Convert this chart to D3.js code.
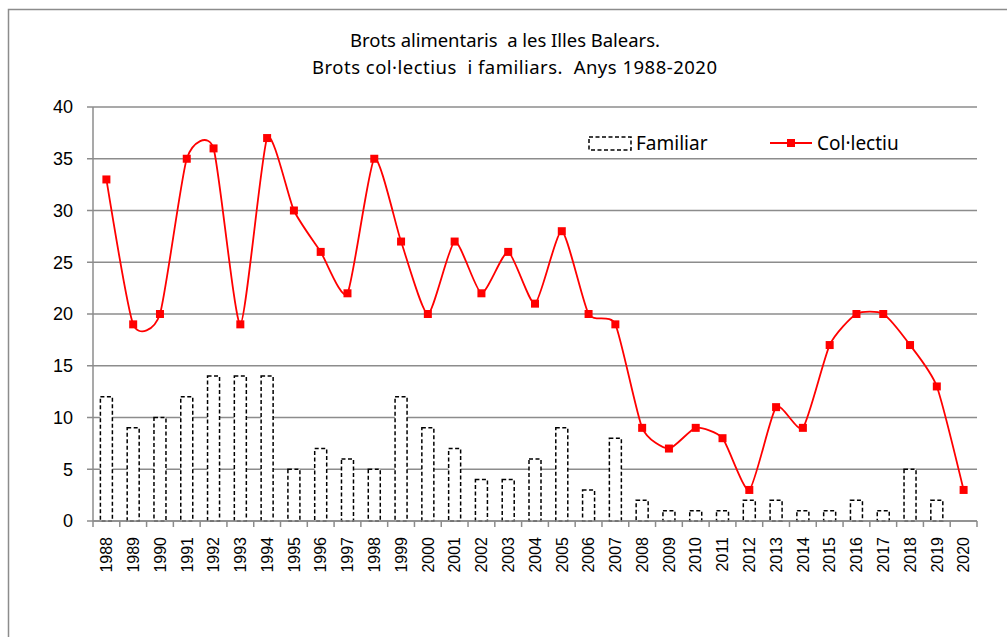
<!DOCTYPE html>
<html>
<head>
<meta charset="utf-8">
<script src="https://cdn.jsdelivr.net/npm/d3@7"></script>
<style>
  body { margin: 0; background: #fff; }
</style>
</head>
<body>
<script>
// data
const years = d3.range(1988, 2021).map(String);
const familiar = [12, 9, 10, 12, 14, 14, 14, 5, 7, 6, 5, 12, 9, 7, 4, 4, 6, 9, 3, 8,
                  2, 1, 1, 1, 2, 2, 1, 1, 2, 1, 5, 2, 0];
const collectiu = [33, 19, 20, 35, 36, 19, 37, 30, 26, 22, 35, 27, 20, 27, 22, 26, 21, 28, 20, 19,
                   9, 7, 9, 8, 3, 11, 9, 17, 20, 20, 17, 13, 3];
const yTicks = [0, 5, 10, 15, 20, 25, 30, 35, 40];
const titleLines = ["Brots alimentaris  a les Illes Balears.", "Brots col·lectius  i familiars.  Anys 1988-2020"];

const width = 1007, height = 637;
const margin = {left: 93, right: 30, top: 107, bottom: 116};
const grey = "#8c8c8c";

const svg = d3.select("body").append("svg")
  .attr("width", width)
  .attr("height", height);

// chart frame
svg.append("rect")
  .attr("x", 8.5).attr("y", 9.5)
  .attr("width", 1010).attr("height", 640)
  .attr("fill", "#fff")
  .attr("stroke", grey)
  .attr("stroke-width", 1.5);

const x = d3.scaleBand()
  .domain(years)
  .range([margin.left, width - margin.right]);

const y = d3.scaleLinear()
  .domain([0, 40])
  .range([height - margin.bottom, margin.top]);

// gridlines with small left ticks
svg.append("g")
  .selectAll("line")
  .data(yTicks)
  .join("line")
  .attr("x1", margin.left - 6)
  .attr("x2", width - margin.right)
  .attr("y1", d => y(d))
  .attr("y2", d => y(d))
  .attr("stroke", grey)
  .attr("stroke-width", 1.5);

// y labels
svg.append("g")
  .selectAll("text")
  .data(yTicks)
  .join("text")
  .attr("x", 73)
  .attr("y", d => y(d))
  .attr("dy", "0.36em")
  .attr("text-anchor", "end")
  .style("font-family", "'Liberation Sans', Arial, sans-serif")
  .style("font-size", "18px")
  .attr("fill", "#000")
  .text(d => d);

// y axis line
svg.append("line")
  .attr("x1", margin.left).attr("x2", margin.left)
  .attr("y1", y(40)).attr("y2", y(0))
  .attr("stroke", grey).attr("stroke-width", 1.5);

// bars (Familiar)
const barW = 12;
svg.append("g")
  .selectAll("rect")
  .data(familiar.map((v, i) => ({year: years[i], v: v})).filter(d => d.v > 0))
  .join("rect")
  .attr("x", d => x(d.year) + x.bandwidth() / 2 - barW / 2)
  .attr("y", d => y(d.v))
  .attr("width", barW)
  .attr("height", d => y(0) - y(d.v))
  .attr("fill", "#fff")
  .attr("stroke", "#000")
  .attr("stroke-width", 1.5)
  .attr("stroke-dasharray", "4,2.5");

// x axis with ticks between categories
const xAxis = svg.append("g")
  .attr("transform", "translate(0," + y(0) + ")");
xAxis.append("line")
  .attr("x1", margin.left).attr("x2", width - margin.right)
  .attr("stroke", grey).attr("stroke-width", 1.5);
xAxis.selectAll(".tick")
  .data(years.concat(["end"]))
  .join("line")
  .attr("class", "tick")
  .attr("x1", d => d == "end" ? width - margin.right : x(d))
  .attr("x2", d => d == "end" ? width - margin.right : x(d))
  .attr("y1", 0).attr("y2", 6)
  .attr("stroke", grey).attr("stroke-width", 1.5);
xAxis.selectAll("text")
  .data(years)
  .join("text")
  .attr("transform", d => "translate(" + (x(d) + x.bandwidth() / 2) + ",16) rotate(-90)")
  .attr("dy", "0.36em")
  .attr("text-anchor", "end")
  .style("font-family", "'Liberation Sans', Arial, sans-serif")
  .style("font-size", "16px")
  .attr("fill", "#000")
  .text(d => d);

// line (Col·lectiu), smoothed like the spreadsheet chart
const line = d3.line()
  .x((d, i) => x(years[i]) + x.bandwidth() / 2)
  .y(d => y(d))
  .curve(d3.curveCardinal.tension(0.4));

svg.append("path")
  .datum(collectiu)
  .attr("d", line)
  .attr("fill", "none")
  .attr("stroke", "#ff0000")
  .attr("stroke-width", 1.8);

svg.append("g")
  .selectAll("rect")
  .data(collectiu)
  .join("rect")
  .attr("x", (d, i) => x(years[i]) + x.bandwidth() / 2 - 4)
  .attr("y", d => y(d) - 4)
  .attr("width", 8).attr("height", 8)
  .attr("fill", "#ff0000");

// title, two lines as in the original
const titleX = [350, 312];
const titleW = [310, 405];
svg.append("g")
  .selectAll("text")
  .data(titleLines)
  .join("text")
  .attr("x", (d, i) => titleX[i])
  .attr("y", (d, i) => 47 + i * 27)
  .attr("textLength", (d, i) => titleW[i])
  .attr("lengthAdjust", "spacing")
  .style("font-family", "'Noto Sans', sans-serif")
  .style("font-size", "18.5px")
  .style("white-space", "pre")
  .attr("fill", "#000")
  .text(d => d);

// legend
const legend = svg.append("g").style("font-family", "'Noto Sans', sans-serif").style("font-size", "19px");
legend.append("rect")
  .attr("x", 589).attr("y", 137)
  .attr("width", 42).attr("height", 13)
  .attr("fill", "#fff").attr("stroke", "#000")
  .attr("stroke-width", 1.5).attr("stroke-dasharray", "4,2.5");
legend.append("text")
  .attr("x", 636).attr("y", 150)
  .text("Familiar");
legend.append("line")
  .attr("x1", 770).attr("x2", 812)
  .attr("y1", 143).attr("y2", 143)
  .attr("stroke", "#ff0000").attr("stroke-width", 1.8);
legend.append("rect")
  .attr("x", 787).attr("y", 139)
  .attr("width", 8).attr("height", 8)
  .attr("fill", "#ff0000");
legend.append("text")
  .attr("x", 817).attr("y", 150)
  .text("Col·lectiu");
</script>
</body>
</html>
